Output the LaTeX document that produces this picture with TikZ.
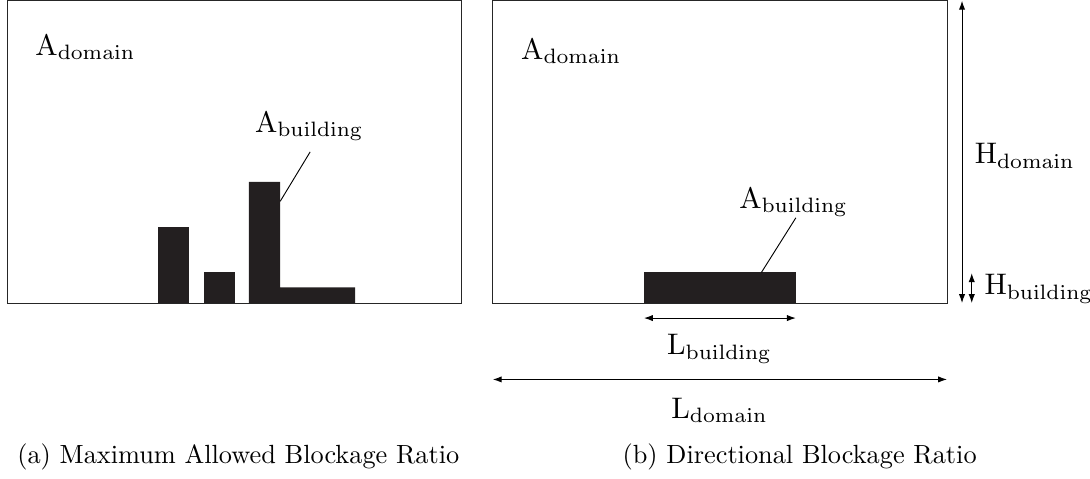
\documentclass[tikz,border=0pt]{standalone}
\usetikzlibrary{arrows.meta}

\definecolor{bldgfill}{RGB}{35,31,32}

\tikzset{
    domainbox/.style={draw=black!85, line width=0.4pt},
    building/.style={fill=bldgfill},
    leader/.style={draw=black, line width=0.35pt},
    dimarrow/.style={{Latex[length=3.4pt,width=2.4pt]}-{Latex[length=3.4pt,width=2.4pt]}, line width=0.4pt},
    quantity/.style={scale=1.13}
}

\begin{document}
\begin{tikzpicture}

    \useasboundingbox (-0.094,-2.34) rectangle (14.47,4.05);

    % Maximum allowed blockage ratio (left)
    \begin{scope}
        % Domain
        \draw[domainbox] (0,0) rectangle (6.07,4.04);
        \node[quantity, anchor=base west] (domA) at (0.24,3.31) {A$_{\mathrm{domain}}$};

        % Buildings
        \fill[building] (2.02,0) rectangle (2.43,1.02);
        \fill[building] (2.63,0) rectangle (3.05,0.41);
        \fill[building] (3.23,0) -- (3.23,1.62) -- (3.65,1.62) -- (3.65,0.21)
            -- (4.65,0.21) -- (4.65,0) -- cycle;

        % Label
        \coordinate (tower) at (3.65,1.36);
        \coordinate (tagA) at (4.05,2.02);
        \node[quantity, anchor=base] (bldA) at (4.04,2.28) {A$_{\mathrm{building}}$};
        \draw[leader] (tower) -- (tagA);

        % Caption
        \node[anchor=base] (capA) at (3.09,-2.14) {(a) Maximum Allowed Blockage Ratio};
    \end{scope}

    % Directional blockage ratio (right)
    \begin{scope}[xshift=6.49cm]
        % Domain
        \draw[domainbox] (0,0) rectangle (6.07,4.04);
        \node[quantity, anchor=base west] (domB) at (0.24,3.26) {A$_{\mathrm{domain}}$};

        % Building
        \fill[building] (2.02,0) rectangle (4.05,0.41);

        % Label
        \coordinate (roof) at (3.59,0.41);
        \coordinate (tagB) at (4.05,1.14);
        \node[quantity, anchor=base] (bldB) at (4.02,1.27) {A$_{\mathrm{building}}$};
        \draw[leader] (roof) -- (tagB);

        % Dimensions
        \coordinate (hdLo) at (6.27,0);
        \coordinate (hdHi) at (6.27,4.04);
        \coordinate (hbLo) at (6.40,0);
        \coordinate (hbHi) at (6.40,0.40);
        \coordinate (lbL) at (2.02,-0.20);
        \coordinate (lbR) at (4.05,-0.20);
        \coordinate (ldL) at (0,-1.02);
        \coordinate (ldR) at (6.07,-1.02);

        \draw[dimarrow] (hdLo) -- (hdHi);
        \draw[dimarrow] (hbLo) -- (hbHi);
        \draw[dimarrow] (lbL) -- (lbR);
        \draw[dimarrow] (ldL) -- (ldR);
        \node[quantity, anchor=base west] (hDom) at (6.30,1.86) {H$_{\mathrm{domain}}$};
        \node[quantity, anchor=base west] (hBld) at (6.43,0.11) {H$_{\mathrm{building}}$};
        \node[quantity, anchor=base] (lBld) at (3.03,-0.69) {L$_{\mathrm{building}}$};
        \node[quantity, anchor=base] (lDom) at (3.03,-1.54) {L$_{\mathrm{domain}}$};

        % Caption
        \node[anchor=base] (capB) at (4.10,-2.14) {(b) Directional Blockage Ratio};
    \end{scope}

\end{tikzpicture}
\end{document}
